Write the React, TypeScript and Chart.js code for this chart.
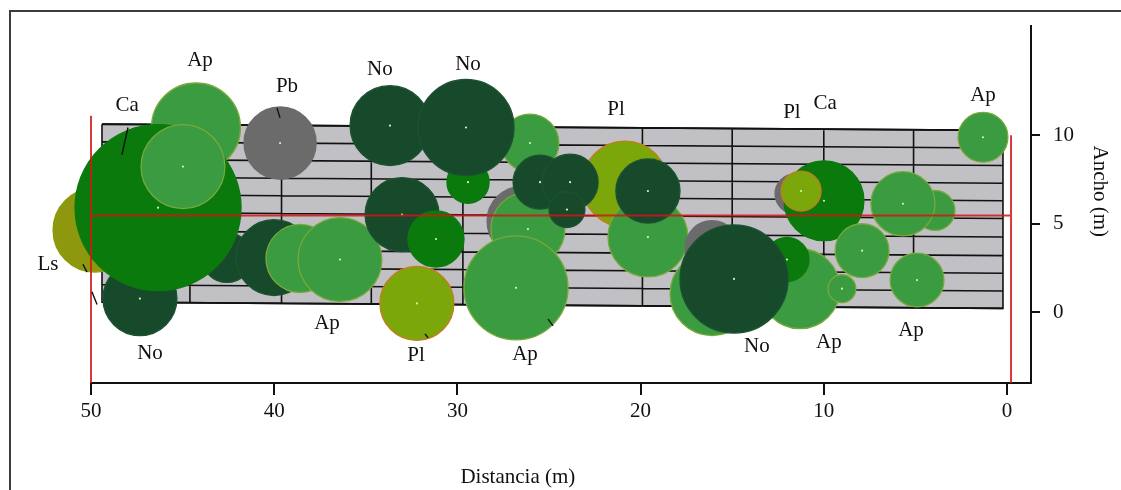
import React, { useEffect, useRef } from 'react';
import { Chart, registerables } from 'chart.js';
Chart.register(...registerables);

// ---- axis ticks ----
const xTickValues = [50, 40, 30, 20, 10, 0];
const yTickValues = [0, 5, 10];

// ---- tree crowns (drawn back to front) ----
const crownSpecies = ['Ls','No','No','Ap','Ca','Ap','Pb','No','Ap','Ap','Ap','No','Ca','No','No','Ca','Pl','Pb','Ap','Ap','Pl','Ap','No','No','No','No','Pb','Ap','Ap','Ca','No','Pb','Ca','Pl','Ap','Ap','Ap','Ap','Ap','Ap'];
const crownX = [49.78,42.58,47.33,44.27,46.34,44.98,39.68,40.01,38.59,36.41,26.04,33.68,29.42,29.53,33.02,31.17,32.21,26.47,26.15,26.8,20.85,19.6,25.49,23.85,24.02,19.6,16.1,16.1,11.3,12.01,14.9,11.57,9.99,11.24,3.93,5.68,7.91,9.01,4.91,1.31];
const crownY = [4.64,3.09,0.77,10.44,5.91,8.23,9.56,3.09,3.04,2.98,9.56,10.55,7.35,10.44,5.52,4.14,0.5,5.14,4.7,1.38,7.24,4.25,7.35,7.35,5.8,6.85,3.65,1.05,1.33,2.98,1.88,6.69,6.3,6.85,5.75,6.13,3.48,1.33,1.82,9.89];
const crownRadius = [2.29,1.36,2.02,2.43,4.53,2.29,1.97,2.07,1.86,2.29,1.58,2.18,1.15,2.62,2.02,1.53,2.02,1.91,2.02,2.84,2.35,2.18,1.47,1.53,0.98,1.75,1.47,2.29,2.18,1.2,2.95,1.09,2.18,1.09,1.09,1.75,1.47,0.76,1.47,1.36];
const crownCentreShown = [false,false,true,false,true,true,true,false,false,true,true,true,true,true,true,true,true,false,true,true,false,true,true,true,true,true,false,false,false,true,true,false,true,true,false,true,true,true,true,true];

// ---- species labels ----
const labelText = ['Ap','Ca','Pb','No','No','Pl','Pl','Ca','Ap','Ls','No','Ap','Pl','Ap','No','Ap','Ap'];
const labelX = [44.05,48.03,39.3,34.23,29.42,21.34,11.74,9.93,1.31,52.35,46.78,37.12,32.26,26.31,13.65,9.72,5.24];
const labelY = [14.25,11.66,12.76,13.7,14.03,11.44,11.27,11.82,12.27,2.71,-2.32,-0.61,-2.43,-2.38,-1.93,-1.71,-1.05];

// leader strokes [x1, y1, x2, y2]
const leaderX1 = [47.98,39.85,50.44,49.95,25.05,31.77];
const leaderY1 = [10.44,11.55,2.71,1.16,-0.39,-1.22];
const leaderX2 = [48.31,39.68,50.22,49.67,24.78,31.6];
const leaderY2 = [8.9,10.99,2.27,0.44,-0.77,-1.44];

// ---- platform (strips) ----
const platformEndsX = [49.4, 0.22];
const stripLineY = [10.28, 9.28, 8.29, 7.29, 6.3, 5.3, 4.25, 3.2, 2.2, 1.2, 0.22];
const platformTilt = 0.35;
const blockLineX = [44.6, 39.6, 34.7, 29.7, 24.8, 19.9, 15.0, 10.0, 5.1];

// ---- red reference lines ----
const refLineX = [50, -0.22, null, 50, 50, null, -0.22, -0.22];
const refLineY = [5.47, 5.47, null, 11.1, -4, null, 10.0, -4];

const speciesFill: Record<string, string> = { No: '#174a2b', Ap: '#3b9b40', Ca: '#0a7a0c', Pl: '#7ba70a', Pb: '#6b6b6b', Ls: '#8e980e' };
const speciesEdge: Record<string, string> = { No: '#1c5230', Ap: '#7aa83c', Ca: '#0a7a0c', Pl: '#c77a22', Pb: '#6b6b6b', Ls: '#8e980e' };

function buildPlatform() {
  const [L, R] = platformEndsX;
  const top = stripLineY[0];
  const bot = stripLineY[stripLineY.length - 1];
  const outline = [
    { x: L, y: top + platformTilt },
    { x: R, y: top },
    { x: R, y: bot },
    { x: L, y: bot + platformTilt },
    { x: L, y: top + platformTilt },
  ];
  const lines: any[] = [];
  stripLineY.forEach((v) => {
    lines.push({ x: L, y: v + platformTilt }, { x: R, y: v }, { x: R, y: null });
  });
  blockLineX.forEach((bx) => {
    const f = (bx - R) / (L - R);
    lines.push({ x: bx, y: bot + platformTilt * f }, { x: bx, y: top + platformTilt * f }, { x: bx, y: null });
  });
  return { outline, lines };
}

const labelPlugin = {
  id: 'speciesLabels',
  afterDatasetsDraw(chart: any) {
    const { ctx } = chart;
    const xs = chart.scales.x;
    const ys = chart.scales.y;
    ctx.save();
    ctx.font = '21px "Liberation Serif"';
    ctx.fillStyle = '#111';
    ctx.textAlign = 'center';
    ctx.textBaseline = 'middle';
    labelText.forEach((t, i) => {
      ctx.fillText(t, xs.getPixelForValue(labelX[i]), ys.getPixelForValue(labelY[i]));
    });
    ctx.fillText('Distancia (m)', xs.getPixelForValue(26.7), ys.bottom + 94);
    ctx.translate(xs.right + 69, (ys.top + ys.bottom) / 2 - 13);
    ctx.rotate(Math.PI / 2);
    ctx.fillText('Ancho (m)', 0, 0);
    ctx.restore();
  },
};

export default function App() {
  const ref = useRef<HTMLCanvasElement>(null);
  useEffect(() => {
    const { outline, lines } = buildPlatform();
    const ppm = (chart: any) => {
      const s = chart.scales.x;
      return Math.abs(s.getPixelForValue(1) - s.getPixelForValue(0));
    };
    const crowns = crownX.map((x, i) => ({ x, y: crownY[i] }));
    const centres = crowns.filter((_, i) => crownCentreShown[i]);
    const refLine = refLineX.map((x, i) => ({ x: x === null ? 25 : x, y: refLineY[i] }));
    const leaders: any[] = [];
    leaderX1.forEach((x, i) => {
      leaders.push({ x, y: leaderY1[i] }, { x: leaderX2[i], y: leaderY2[i] }, { x: leaderX2[i], y: null });
    });

    const chart = new Chart(ref.current!, {
      type: 'scatter',
      data: {
        datasets: [
          {
            data: outline, showLine: true, fill: 'shape', backgroundColor: '#c1c1c5',
            borderColor: '#111', borderWidth: 1.6, pointRadius: 0, order: 10,
          } as any,
          {
            data: lines, showLine: true, fill: false, spanGaps: false, borderColor: '#111',
            borderWidth: 1.6, pointRadius: 0, order: 9,
          },
          {
            data: crowns, showLine: false, clip: false, order: 5,
            pointRadius: (c: any) => crownRadius[c.dataIndex] * ppm(c.chart),
            pointBackgroundColor: crownSpecies.map((s) => speciesFill[s]),
            pointBorderColor: crownSpecies.map((s) => speciesEdge[s]),
            pointBorderWidth: 1.3,
          } as any,
          {
            data: centres, showLine: false, order: 4, pointRadius: 1.1,
            pointBackgroundColor: '#d8f5a8', pointBorderWidth: 0,
          },
          {
            data: refLine, showLine: true, spanGaps: false, clip: false, borderColor: 'rgba(212,22,22,0.85)',
            borderWidth: 2, pointRadius: 0, order: 3,
          } as any,
          {
            data: leaders, showLine: true, spanGaps: false, clip: false, borderColor: '#111',
            borderWidth: 1.4, pointRadius: 0, order: 2,
          } as any,
        ],
      },
      options: {
        responsive: false,
        animation: false,
        devicePixelRatio: 1,
        events: [],
        layout: { padding: { left: 91, top: 18, right: 0, bottom: 0 } },
        plugins: { legend: { display: false }, tooltip: { enabled: false } },
        scales: {
          x: {
            type: 'linear', reverse: true, min: -1.31, max: 50, position: 'bottom',
            afterBuildTicks: (s: any) => { s.ticks = xTickValues.map((v) => ({ value: v })); },
            afterFit: (s: any) => { s.height = 107; },
            grid: { drawOnChartArea: false, drawTicks: true, tickLength: 12, color: '#111', lineWidth: 2 },
            border: { display: true, color: '#111', width: 2 },
            ticks: {
              font: { family: 'Liberation Serif', size: 21 }, color: '#111', padding: 4,
              maxRotation: 0, autoSkip: false, callback: (v: any) => String(v),
            },
          },
          y: {
            type: 'linear', position: 'right', min: -4, max: 16.2,
            afterBuildTicks: (s: any) => { s.ticks = yTickValues.map((v) => ({ value: v })); },
            afterFit: (s: any) => { s.width = 90; },
            grid: { drawOnChartArea: false, drawTicks: true, tickLength: 9, color: '#111', lineWidth: 2 },
            border: { display: true, color: '#111', width: 2 },
            ticks: {
              font: { family: 'Liberation Serif', size: 21 }, color: '#111', padding: 13,
              autoSkip: false, callback: (v: any) => String(v),
            },
          },
        },
      } as any,
      plugins: [labelPlugin],
    });
    return () => chart.destroy();
  }, []);

  return (
    <div style={{ position: 'fixed', left: 0, top: 0, width: 1121, height: 490, overflow: 'hidden', background: '#fff' }}>
      <div style={{ position: 'absolute', left: 9, top: 10, width: 1300, height: 700, border: '2px solid #3c3c3c', boxSizing: 'border-box' }} />
      <canvas ref={ref} width={1121} height={490} style={{ position: 'absolute', left: 0, top: 0, width: 1121, height: 490 }} />
    </div>
  );
}
